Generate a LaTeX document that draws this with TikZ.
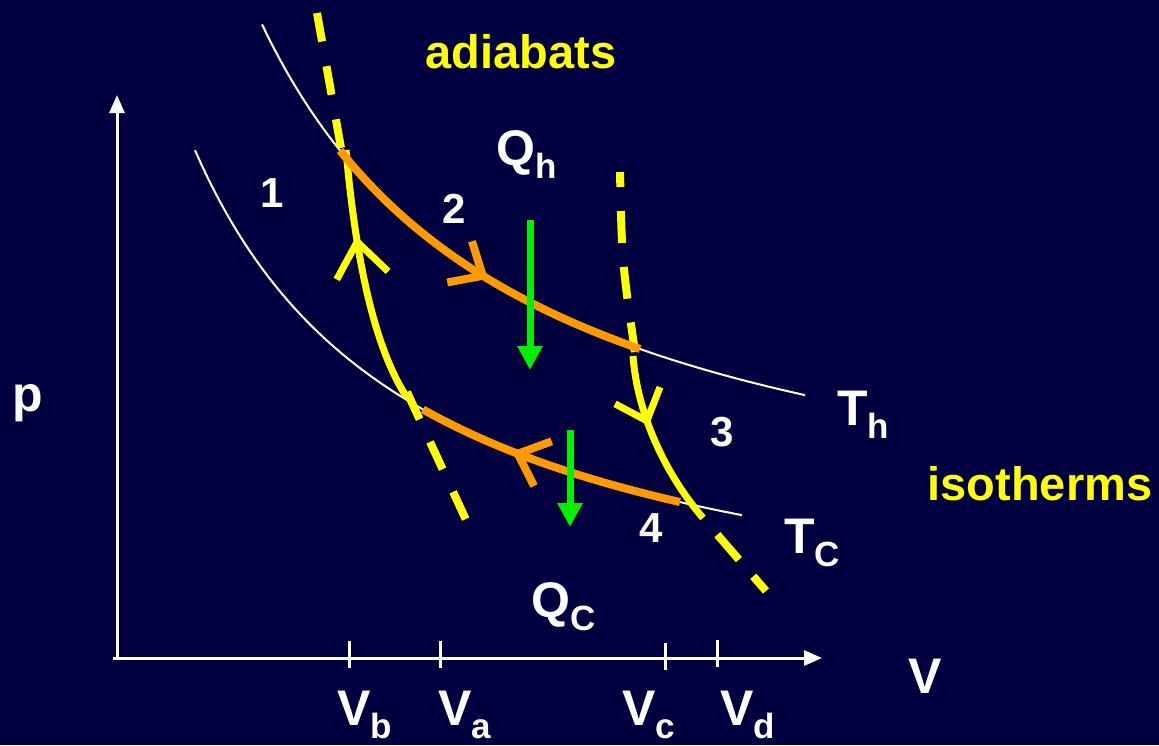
\documentclass[tikz,border=0pt]{standalone}
\usepackage{fontspec}
\setmainfont{Liberation Sans}
\usetikzlibrary{arrows.meta,decorations.markings}

\definecolor{fondo}{RGB}{0,0,64}
\definecolor{naranja}{RGB}{255,153,0}
\definecolor{amarillo}{RGB}{255,255,0}
\definecolor{verde}{RGB}{0,240,0}

\newcommand{\bajo}[1]{\raisebox{-13pt}{\fontsize{35}{35}\selectfont #1}}

\begin{document}
\begin{tikzpicture}[
      x=1pt, y=-1pt,
      rotulo/.style={text=white, inner sep=0pt, anchor=base west,
                     font=\fontsize{50}{60}\selectfont\bfseries},
      numero/.style={text=white, inner sep=0pt,
                     font=\fontsize{42}{50}\selectfont\bfseries},
      titulo/.style={text=amarillo, inner sep=0pt, anchor=base,
                     font=\fontsize{47}{56}\selectfont\bfseries},
      eje/.style={color=white, line width=3pt, -{Triangle[length=18pt,width=15pt]}},
      marca/.style={color=white, line width=3pt},
      isoterma/.style={color=white, line width=2pt},
      tramo/.style={color=naranja, line width=8pt},
      adiabata/.style={color=amarillo, line width=7pt},
      trazos/.style={adiabata, line width=8pt, dash pattern=on 30pt off 25pt},
      calor/.style={color=verde, line width=7pt, -{Triangle[length=24pt,width=24pt]}},
      punta/.style={postaction={decorate}, decoration={markings,
                    mark=at position #1 with {\arrow{Straight Barb[length=27pt,width=48pt]}}}},
      puntagrande/.style={postaction={decorate}, decoration={markings,
                    mark=at position #1 with {\arrow{Straight Barb[length=34pt,width=52pt]}}}}
    ]
    \useasboundingbox (0,0) rectangle (1159,745);
    \fill[fondo] (0,0) rectangle (1159,745);

    \coordinate (o)    at (117,658);
    \coordinate (xini) at (113,658);
    \coordinate (ymax) at (117,95);
    \coordinate (xmax) at (822,658);
    \draw[eje] (o) -- (ymax);
    \draw[eje] (xini) -- (xmax);

    \draw[marca] (349,641) -- (349,668);
    \draw[marca] (440,641) -- (440,668);
    \draw[marca] (665,643) -- (665,670);
    \draw[marca] (717,640) -- (717,667);

    \draw[isoterma] plot[domain=262:805, samples=90] (\x, {574-1440/(\x/100)});
    \draw[isoterma] plot[domain=195:742, samples=90] (\x, {665.3-1159/((\x+30)/100)});

    \coordinate (a1) at (317,13);
    \coordinate (a2) at (341,148);
    \coordinate (a3) at (346,150);
    \coordinate (a4) at (406,396);
    \coordinate (a5) at (407,392);
    \coordinate (a6) at (467,522);
    \draw[trazos, dash pattern=on 29pt off 25pt] (a1) -- (a2);
    \draw[adiabata, puntagrande=0.66] (a4) .. controls (370,340) and (354,240) .. (a3);
    \draw[trazos] (a5) -- (a6);

    \coordinate (b1) at (620,172);
    \coordinate (b2) at (635,352);
    \coordinate (b3) at (633,356);
    \coordinate (b4) at (703,518);
    \coordinate (b5) at (766,591);
    \draw[trazos, dash pattern=on 32pt off 24pt, dash phase=17pt] (b1) .. controls (622,262) .. (b2);
    \draw[adiabata, punta=0.4] (b3) .. controls (637,410) and (662,470) .. (b4);
    \draw[trazos, dash pattern=on 33pt off 22pt, dash phase=33pt] (b4) -- (b5);

    \draw[tramo, punta=0.54] plot[domain=340:640, samples=60] (\x, {574-1440/(\x/100)});
    \draw[tramo, punta=0.64] plot[domain=680:423, samples=60] (\x, {665.3-1159/((\x+30)/100)});

    \coordinate (qh1) at (530,220);
    \coordinate (qh2) at (530,370);
    \coordinate (qc1) at (570,430);
    \coordinate (qc2) at (570,527);
    \draw[calor] (qh1) -- (qh2);
    \draw[calor] (qc1) -- (qc2);

    \node[rotulo] (p)  at (12,411)  {p};
    \node[rotulo] (v)  at (908,693) {V};
    \node[rotulo] (vb) at (337,725) {V\bajo{b}};
    \node[rotulo] (va) at (438,725) {V\bajo{a}};
    \node[rotulo] (vc) at (622,725) {V\bajo{c}};
    \node[rotulo] (vd) at (720,725) {V\bajo{d}};
    \node[rotulo] (th) at (837,425) {T\bajo{h}};
    \node[rotulo] (tc) at (784,553) {T\bajo{C}};
    \node[rotulo] (qh) at (496,165) {Q\bajo{h}};
    \node[rotulo] (qc) at (531,617) {Q\bajo{C}};

    \node[numero] (n1) at (272,193) {1};
    \node[numero] (n2) at (454,209) {2};
    \node[numero] (n3) at (722,432) {3};
    \node[numero] (n4) at (651,528) {4};

    \node[titulo] (ad) at (521,68)  {adiabats};
    \node[titulo] (is) at (1040,500) {isotherms};
  \end{tikzpicture}
\end{document}
